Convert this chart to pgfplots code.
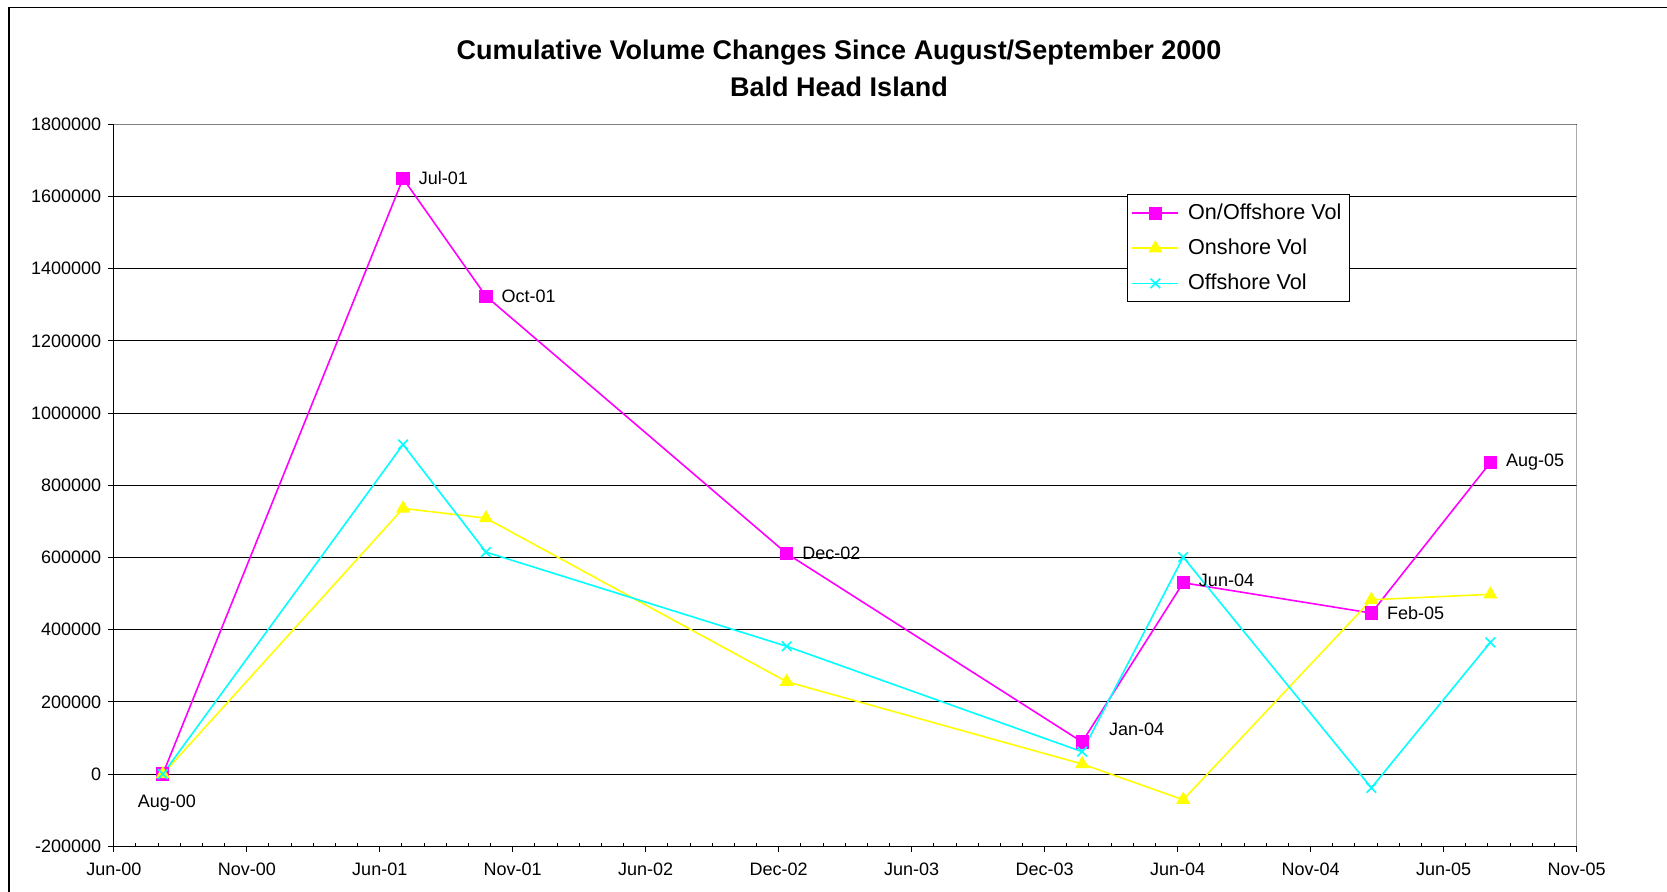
\documentclass[border=0pt]{standalone}
\usepackage{fontspec}
\setmainfont{Liberation Sans}
\usepackage{pgfplots}
\pgfplotsset{compat=1.18}
\definecolor{cMag}{RGB}{255,0,255}
\definecolor{cYel}{RGB}{255,255,0}
\definecolor{cCya}{RGB}{0,255,255}
\definecolor{cBorder}{RGB}{128,128,128}

\begin{document}
\begin{tikzpicture}
\useasboundingbox (0,0) rectangle (833.5pt,-446pt);
\draw[line width=0.6pt] (4.5pt,-480pt) -- (4.5pt,-3.65pt) -- (900pt,-3.65pt);
\node[font=\bfseries\fontsize{13.5}{16}\selectfont] at (419.5pt,-26.5pt) {Cumulative Volume Changes Since August/September 2000};
\node[font=\bfseries\fontsize{13.5}{16}\selectfont] at (419.5pt,-43.5pt) {Bald Head Island};
\begin{axis}[
  at={(56.9pt,-423.15pt)}, anchor=south west,
  scale only axis, width=731.4pt, height=361pt,
  xmin=0, xmax=66, ymin=-200000, ymax=1800000,
  axis x line*=bottom, axis y line*=left,
  axis line style={black, line width=0.6pt},
  xtick={0,6,...,66},
  xticklabels={Jun-00,Nov-00,Jun-01,Nov-01,Jun-02,Dec-02,Jun-03,Dec-03,Jun-04,Nov-04,Jun-05,Nov-05},
  minor x tick num=5,
  ytick={-200000,0,200000,400000,600000,800000,1000000,1200000,1400000,1600000,1800000},
  ymajorgrids, grid style={black, line width=0.5pt},
  scaled y ticks=false,
  yticklabel style={/pgf/number format/fixed, /pgf/number format/1000 sep={}},
  xticklabel style={yshift=-2pt},
  /pgf/number format/assume math mode=true,
  ticklabel style={font=\fontsize{9}{11}\selectfont},
  tick align=outside,
  major tick length=2.8pt,
  minor tick length=1.7pt,
  minor tick style={yshift=1.7pt},
  tick style={black, line width=0.5pt},
  legend style={at={(rel axis cs:0.6927,0.9029)}, anchor=north west,
    draw=black, line width=0.5pt, font=\fontsize{10.8}{12}\selectfont,
    inner xsep=2pt, inner ysep=2.5pt, row sep=4.2pt, cells={anchor=west},
    /tikz/every odd column/.append style={column sep=2.5pt}},
  legend cell align=left,
  legend image code/.code={\draw[mark repeat=2,mark phase=2] plot coordinates {(0pt,0pt)(11.5pt,0pt)(23pt,0pt)};},
  labelstyle/.style={draw=none, mark=none, nodes near coords, point meta=explicit symbolic, forget plot,
     every node near coord/.append style={inner sep=0pt, text=black, font=\fontsize{9}{11}\selectfont}},
]
% x = months since June 2000
\addplot[cMag, line width=0.8pt, mark=square*, mark size=2.9pt,
  mark options={solid, fill=cMag, draw=cMag}] coordinates {
 (2.21,0) (13.05,1650000) (16.79,1324000) (30.36,611000) (43.69,89000)
 (48.25,530000) (56.74,446000) (62.11,863000)};
\addlegendentry{On/Offshore Vol}
\addplot[cYel, line width=0.8pt, mark=triangle*, mark size=3.3pt,
  mark options={solid, fill=cYel, draw=cYel}] coordinates {
 (2.21,0) (13.05,736000) (16.79,709000) (30.36,256000) (43.69,28000)
 (48.25,-71000) (56.74,483000) (62.11,498000)};
\addlegendentry{Onshore Vol}
\addplot[cCya, line width=0.8pt, mark=x, mark size=3.4pt,
  mark options={solid, draw=cCya, line width=0.8pt}] coordinates {
 (2.21,0) (13.05,913000) (16.79,615000) (30.36,354000) (43.69,62000)
 (48.25,601000) (56.74,-38000) (62.11,365000)};
\addlegendentry{Offshore Vol}
% data labels
\addplot[labelstyle, every node near coord/.append style={anchor=west, xshift=7.7pt}] coordinates {
 (13.05,1650000) [Jul-01] (16.79,1324000) [Oct-01] (30.36,611000) [Dec-02]
 (56.74,446000) [Feb-05] (62.11,863000) [Aug-05]};
\addplot[labelstyle, every node near coord/.append style={anchor=west, xshift=7.7pt, yshift=1pt}] coordinates {
 (48.25,530000) [Jun-04]};
\addplot[labelstyle, every node near coord/.append style={anchor=west, xshift=13.3pt, yshift=6.4pt}] coordinates {
 (43.69,89000) [Jan-04]};
\addplot[labelstyle, every node near coord/.append style={anchor=center, xshift=2pt, yshift=-14.5pt}] coordinates {
 (2.21,0) [Aug-00]};
\draw[cBorder, line width=0.6pt] (rel axis cs:0,1) -- (rel axis cs:1,1) -- (rel axis cs:1,0);
\end{axis}
\end{tikzpicture}
\end{document}
